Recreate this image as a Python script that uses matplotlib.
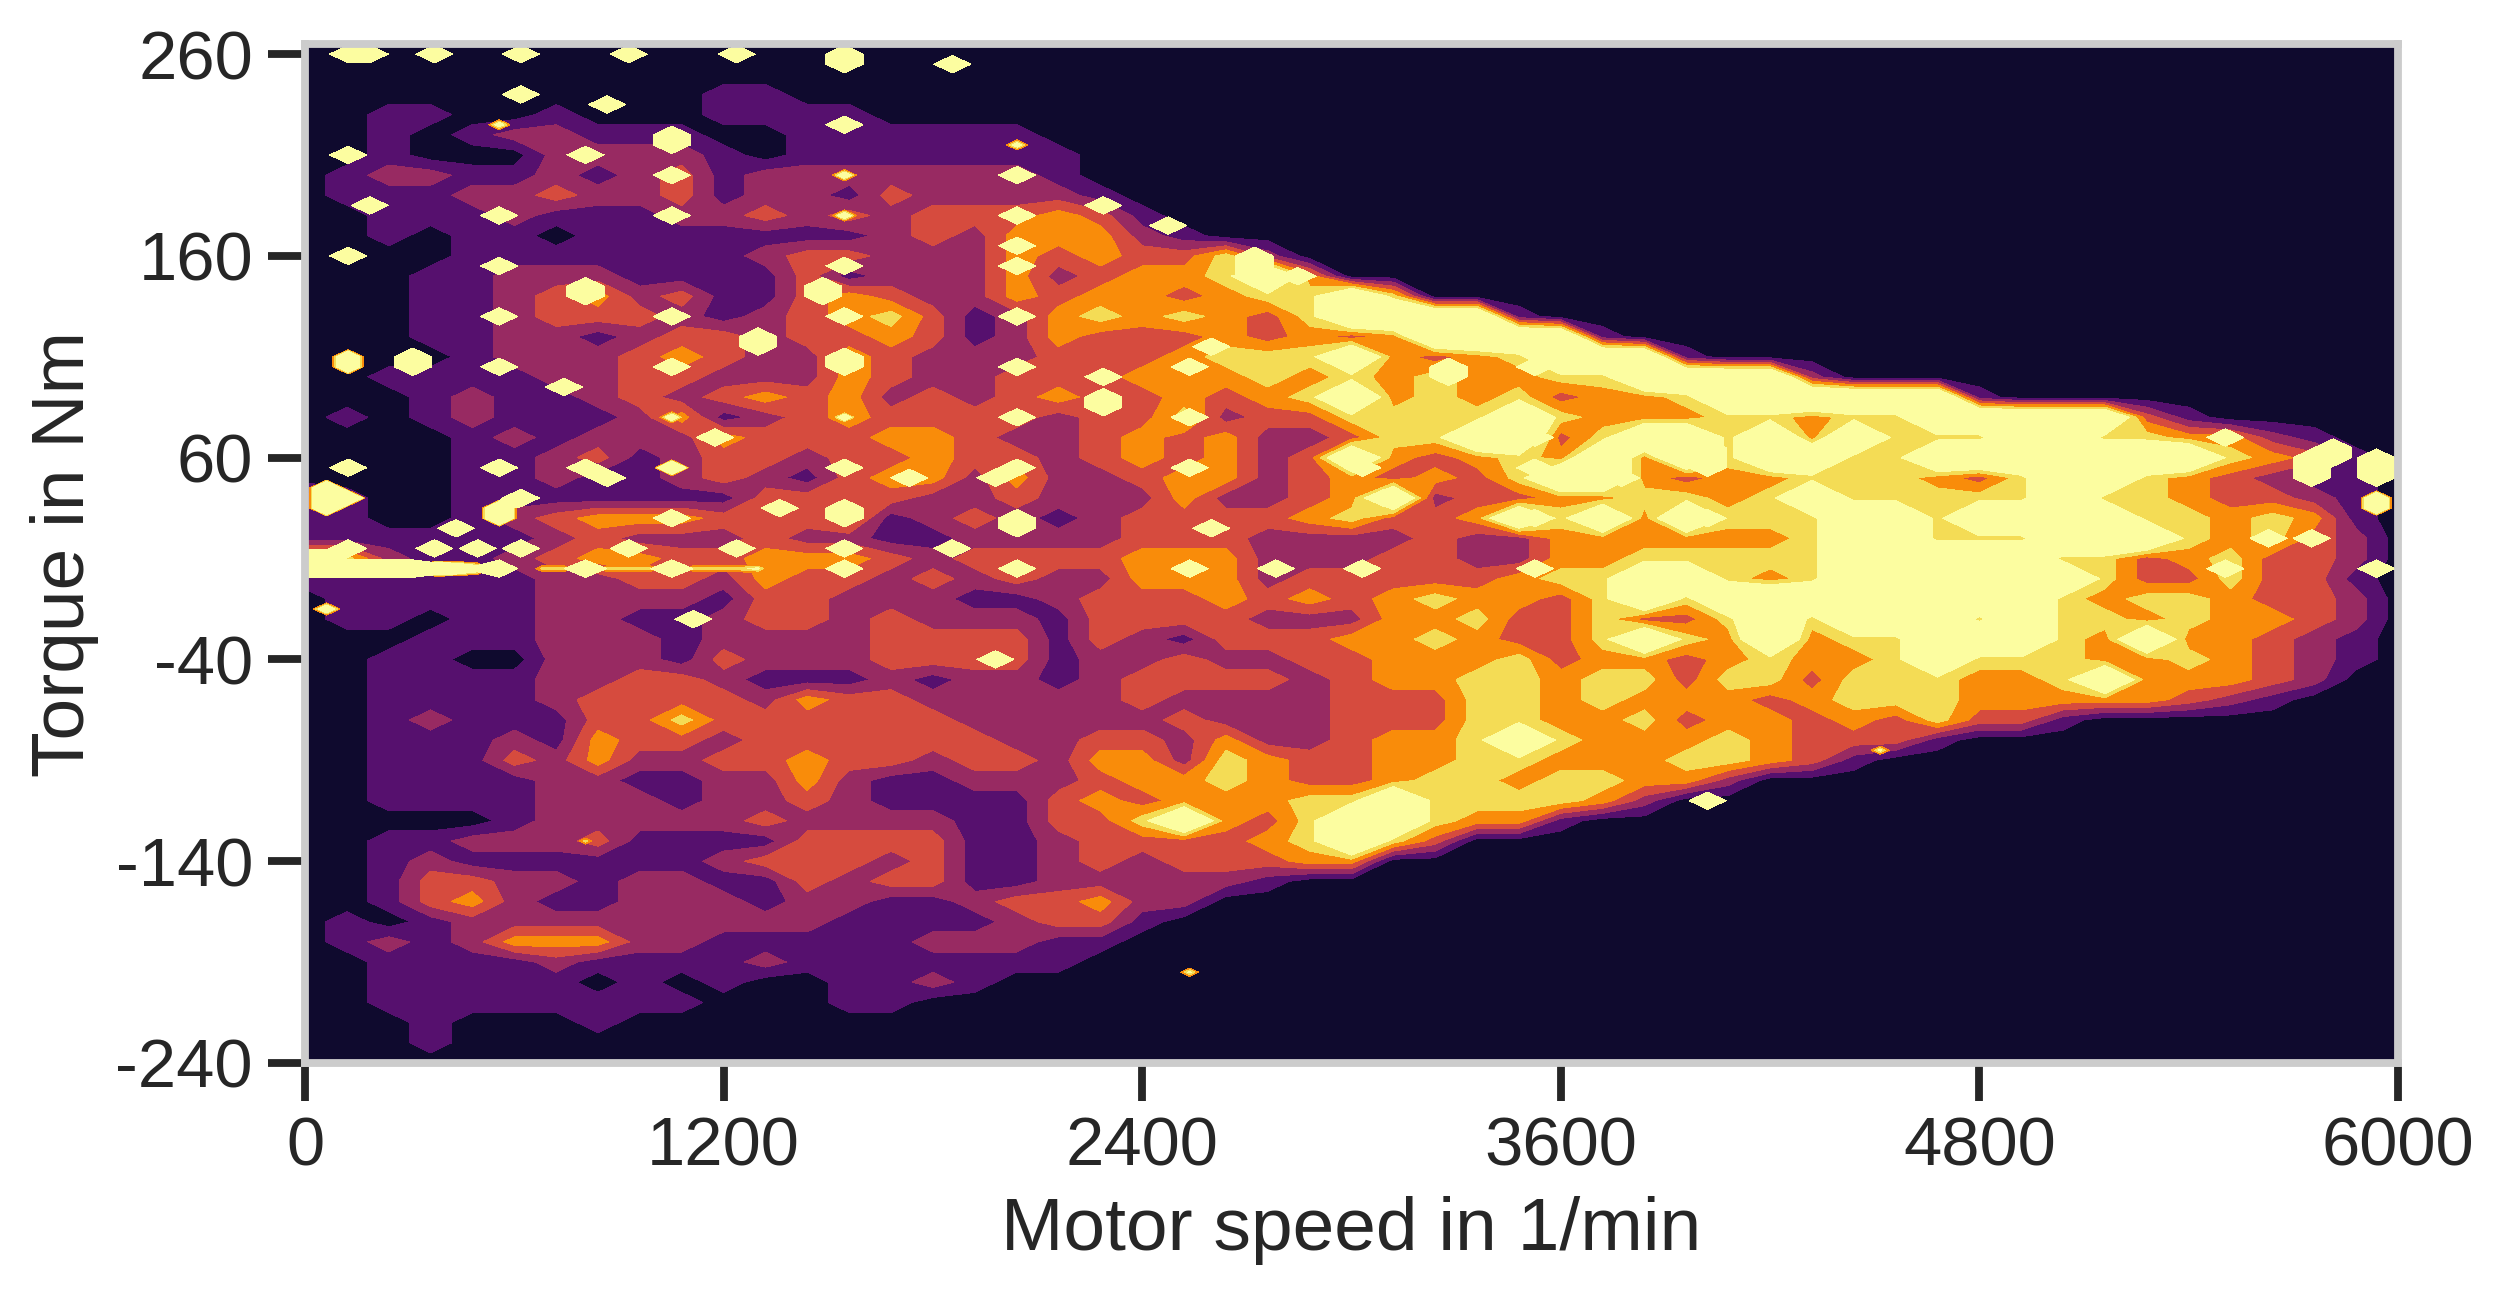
import numpy as np
import matplotlib
matplotlib.use('Agg')
import matplotlib.pyplot as plt

plt.rcParams['font.family'] = ['Liberation Sans', 'DejaVu Sans']

# density class, one row per torque value (260 down to -240 in steps of 10),
# one digit per speed value (0 to 6000 in steps of 120), missing digits at the end are 0
torque_rows = [
    '',
    '',
    '0000000000 11',
    '0011001000 1111',
    '0010122111 00111111',
    '0010002222 101111111',
    '0122112123 122222221',
    '0111223223 1221322221',
    '0011121112 2323233343 1',
    '0010110111 1111232444 21',
    '0000111111 1233222434 3352',
    '0001122211 1131222423 44564',
    '0001123423 1134322434 4345565',
    '0001123332 1234531245 4543566661',
    '0001122123 3233431243 3343434666 61',
    '0000122234 3224322233 3455564345 6661',
    '0011112233 2224322333 4445454544 5566662',
    '0001211232 3434232343 3434564545 3445666666 1',
    '0101211124 1234333323 3523355556 5444554556 666631',
    '0000121222 4333443223 4342235566 3566564655 5665544210',
    '0000112312 3323343323 4342364345 4646566556 6666665431',
    '0000112112 3213442422 3442343435 6643445554 3566543211',
    '2100111111 1333322322 2422346233 4455456555 5565543321',
    '1100123444 3334123212 3333453346 5646555665 6666554541',
    '1111112322 2322112222 3332222322 4444445665 5566654532',
    '5521123443 3444323333 4442223322 4455555666 6655345332',
    '1111112233 2433232322 4442333334 5566545666 6665335331',
    '0111112222 1332221123 3343434544 3565666666 6654554332',
    '0110112211 2332322213 3332224453 3533565666 5655454432',
    '0001112221 2222333313 2133344543 3565464556 6654644321',
    '0011002221 3222333312 2322334445 3443454456 5554454321',
    '0011112233 2111212212 3333234455 4553553555 4456444320',
    '0011112333 3243322222 3222233355 4544434555 4444432100',
    '0012111335 3333332222 2322233355 4453443435 331',
    '0011121433 2333333223 3242234456 5444543331',
    '0011132422 3343323324 4254334455 44455431',
    '0011112211 2242112223 4454334554 55442',
    '0011112221 2232111134 3444556555 542',
    '0000012222 2322221133 5643566544 1',
    '0011222311 1133331123 33345653',
    '0012111111 2333231123 233344',
    '0013322122 1132331122 2221',
    '0013421122 2122112334 22',
    '0101222222 2221111233 1',
    '0121244422 1111122211',
    '0011112111 1211111110',
    '0011111010 1001121',
    '0011111111 0001100',
    '0001000100',
    '0001',
    '',
]
# contour height of each density class, the top class rises steeply
class_height = [0, 1, 2, 3, 4, 5, 9]

# isolated sharp peaks, these sit on a finer grid than the rows above
peak_speed = [
    124, 186, 371, 619, 928, 1237, 1547, 1547, 1856, 619, 866, 1547, 557,
    1052, 1052, 2041, 124, 804, 1052, 1547, 2041, 186, 557, 1052, 1547, 2041,
    124, 2041, 2041, 557, 1547, 804, 804, 1485, 1485, 557, 1052, 1547, 2041,
    1299, 1299, 124, 124, 309, 309, 557, 1052, 1547, 1547, 2041, 742, 1052,
    1547, 2041, 1175, 124, 557, 804, 866, 1052, 1547, 1732, 2041, 1980,
    62, 62, 62, 124, 619, 557, 557, 1361, 1547, 1547, 1052, 2041, 2041, 433,
    124, 371, 495, 619, 928, 1237, 1547, 1856,
    0, 62, 124, 186, 247, 309, 371, 433, 495, 557, 804, 1052, 1299, 1547, 2041,
    0, 62, 62, 1113, 1980, 804,
    2289, 2474, 2722, 2722, 2722, 2846, 2598, 2536, 2289, 2289, 2289, 2536,
    2536, 3093, 2598, 3279, 3279, 3526, 3526, 3402, 3526, 3526, 3650, 3773,
    3526, 4021, 4021, 4021, 3031, 4021, 4021, 2536, 2784, 3031, 3526, 2536,
    5506, 5815, 5753, 5815, 5753, 5753, 5939, 5939, 5939, 5939, 5939, 5939,
    5753, 5629, 5506, 4516,
    680, 742, 866, 928, 990, 1113, 1175, 1237,
]
peak_torque = [
    260, 260, 260, 260, 260, 260, 260, 255, 255, 240, 235, 225, 225,
    220, 215, 215, 210, 210, 200, 200, 200, 185, 180, 180, 180, 180,
    160, 165, 155, 155, 155, 145, 140, 145, 140, 130, 130, 130, 130,
    120, 115, 110, 105, 110, 105, 105, 105, 110, 105, 105, 95, 80,
    80, 80, 70, 55, 55, 55, 50, 55, 55, 50, 55, 50,
    45, 40, 35, 40, 40, 35, 30, 35, 35, 30, 30, 30, 25, 25,
    15, 15, 15, 15, 15, 15, 15, 15,
    5, 5, 5, 5, 5, 5, 5, 5, 5, 5, 5, 5, 5, 5, 5,
    10, 10, -15, -20, -40, -130,
    185, 175, 160, 155, 150, 150, 115, 105, 100, 90, 85, 80,
    55, 40, 25, 105, 100, 105, 80, 70, 70, 55, 50, 50,
    30, 65, 60, 55, 55, 30, -110, 5, 5, 5, 5, -195,
    70, 65, 60, 60, 55, 50, 60, 55, 50, 40, 35, 5,
    20, 20, 5, -85,
    5, 5, 5, 5, 5, 5, 5, 5,
]
peak_height = [
    40, 40, 40, 40, 40, 40, 40, 40, 40, 40, 40, 40, 7,
    40, 40, 7, 40, 40, 40, 8, 40, 40, 40, 40, 8, 40,
    40, 40, 40, 40, 40, 40, 40, 40, 40, 40, 40, 40, 40,
    40, 40, 12, 12, 40, 40, 40, 40, 40, 40, 40, 40, 8,
    8, 40, 40, 40, 40, 40, 40, 16, 40, 40, 40, 40,
    16, 16, 16, 16, 40, 16, 16, 40, 40, 40, 40, 40, 40, 40,
    40, 40, 40, 40, 40, 40, 40, 40,
    40, 40, 40, 40, 40, 40, 14, 12, 8, 40, 40, 40, 6, 40, 40,
    40, 40, 9, 40, 40, 5,
    40, 40, 40, 40, 40, 40, 40, 40, 40, 40, 40, 40,
    40, 40, 40, 40, 40, 40, 40, 40, 40, 40, 40, 40,
    40, 40, 40, 40, 40, 40, 40, 40, 40, 40, 40, 6,
    40, 40, 40, 40, 40, 40, 40, 40, 40, 12, 12, 40,
    40, 40, 40, 6,
    5, 5, 5, 5, 5, 5, 5, 5,
]

speed_ticks = [0, 1200, 2400, 3600, 4800, 6000]
torque_ticks = [-240, -140, -40, 60, 160, 260]
band_colors = ['#0f0a2e', '#56106e', '#982a62', '#d64b3e', '#f98c0a', '#f4dc55', '#fcfda0']

density = np.array([[class_height[int(v)] for v in r.replace(' ', '').ljust(51, '0')] for r in torque_rows], dtype=float)
speed = np.linspace(0, 6000, 51)
torque = np.linspace(260, -240, 51)

# bin the peaks on the fine grid
fine_speed = np.linspace(0, 6000, 98)
fine_torque = np.arange(-245, 271, 5.0)
speed_step = fine_speed[1] - fine_speed[0]
speed_edges = np.append(fine_speed - speed_step / 2, 6000 + speed_step / 2)
torque_edges = np.append(fine_torque - 2.5, fine_torque[-1] + 2.5)
peaks, _, _ = np.histogram2d(peak_speed, peak_torque, bins=[speed_edges, torque_edges], weights=peak_height)
soft_peaks = np.where(peaks < 40, peaks, 0)

fig = plt.figure(figsize=(2504 / 300, 1295 / 300), dpi=300)
ax = fig.add_axes([305 / 2504, 1 - 1063 / 1295, (2398 - 305) / 2504, (1063 - 44) / 1295])
ax.set_facecolor(band_colors[0])
ax.contourf(speed, torque[::-1], density[::-1], levels=[-1, 0.5, 1.5, 2.5, 3.5, 4.5, 5.5, 100], colors=band_colors)
# soft peaks keep an orange rim, the tall ones only show the top band
ax.contourf(fine_speed, fine_torque, soft_peaks.T, levels=[3.5, 4.5, 5.5, 1000], colors=band_colors[4:])
ax.contourf(fine_speed, fine_torque, peaks.T, levels=[5.5, 1000], colors=band_colors[6:])

ax.set_xlim(0, 6000)
ax.set_ylim(-240, 265)
ax.set_xticks(speed_ticks)
ax.set_yticks(torque_ticks)
ax.set_yticklabels([str(t) for t in torque_ticks])
ax.tick_params(axis='both', labelsize=16.5, length=9, width=1.875, color='#262626', labelcolor='#262626')
ax.set_xlabel('Motor speed in 1/min', fontsize=18, color='#262626')
ax.set_ylabel('Torque in Nm', fontsize=18, color='#262626')
for spine in ax.spines.values():
    spine.set_color('#cccccc')
    spine.set_linewidth(1.875)

fig.savefig('out.png', dpi=300)
